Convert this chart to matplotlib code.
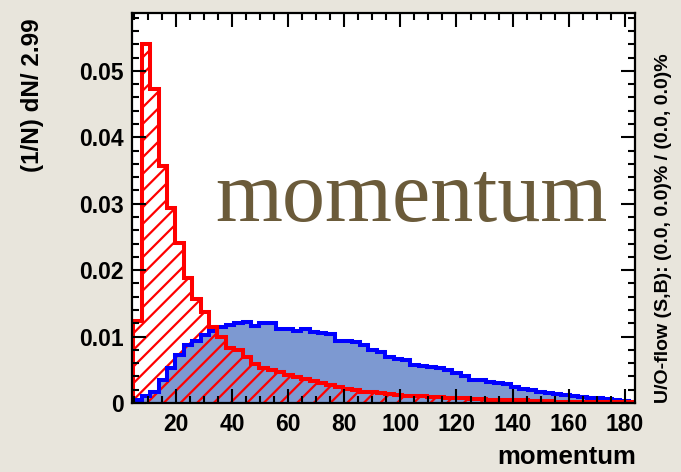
import numpy as np
import matplotlib
matplotlib.use("Agg")
import matplotlib.pyplot as plt
from matplotlib.ticker import MultipleLocator, FuncFormatter

# binning: 60 bins of width 2.99
x_low = 4.9
bin_width = 2.99

signal = [0.0004, 0.0011, 0.0016, 0.0035, 0.0052, 0.0072, 0.0087, 0.0094, 0.0102, 0.0109,
          0.0114, 0.0118, 0.0120, 0.0122, 0.0116, 0.0121, 0.0120, 0.0112, 0.0112, 0.0108,
          0.0112, 0.0107, 0.0105, 0.0104, 0.0094, 0.0093, 0.0092, 0.0087, 0.0080, 0.0077,
          0.0069, 0.0066, 0.0064, 0.0057, 0.0056, 0.0054, 0.0052, 0.0050, 0.0045, 0.0041,
          0.0035, 0.0035, 0.0032, 0.0030, 0.0028, 0.0024, 0.0021, 0.0019, 0.0017, 0.0015,
          0.0013, 0.0012, 0.0010, 0.0009, 0.0008, 0.0007, 0.0006, 0.0004, 0.0003, 0.0002]

background = [0.0123, 0.0541, 0.0473, 0.0357, 0.0294, 0.0241, 0.0188, 0.0157, 0.0137, 0.0114,
              0.0099, 0.0083, 0.0080, 0.0069, 0.0058, 0.0053, 0.0049, 0.0046, 0.0042, 0.0039,
              0.0036, 0.0033, 0.0030, 0.0027, 0.0024, 0.0021, 0.0019, 0.0017, 0.0016, 0.0015,
              0.0013, 0.0012, 0.0011, 0.0011, 0.0010, 0.0009, 0.0009, 0.0008, 0.0008, 0.0007,
              0.0006, 0.0006, 0.0005, 0.0005, 0.0004, 0.0004, 0.0004, 0.0003, 0.0003, 0.0003,
              0.0002, 0.0002, 0.0002, 0.0002, 0.0001, 0.0001, 0.0001, 0.0001, 0.0001, 0.0001]

x_ticks = [20, 40, 60, 80, 100, 120, 140, 160, 180]
y_ticks = [0, 0.01, 0.02, 0.03, 0.04, 0.05]

edges = x_low + bin_width * np.arange(len(signal) + 1)

plt.rcParams['font.family'] = ['Liberation Sans', 'DejaVu Sans']
plt.rcParams['font.weight'] = 'bold'
plt.rcParams['hatch.linewidth'] = 1.6

bg_col = '#e8e5dc'
fig = plt.figure(figsize=(6.81, 4.72), dpi=100, facecolor=bg_col)
ax = fig.add_axes([132/681, 1 - 403/472, 503/681, 390/472])
ax.set_facecolor('white')

# signal: filled, background: hatched
ax.stairs(signal, edges, fill=True, color='#7d99d1', linewidth=0)
ax.stairs(background, edges, fill=True, facecolor='none', edgecolor='#ff0000',
          hatch='//', linewidth=0)
ax.stairs(signal, edges, color='#0000ff', linewidth=2.9)
ax.stairs(background, edges, color='#ff0000', linewidth=2.9)

ax.set_xlim(4.4, 183.6)
ax.set_ylim(0, 0.0587)
ax.set_xticks(x_ticks)
ax.set_yticks(y_ticks)
ax.xaxis.set_minor_locator(MultipleLocator(5))
ax.yaxis.set_minor_locator(MultipleLocator(0.002))
ax.yaxis.set_major_formatter(FuncFormatter(lambda v, p: '0' if v == 0 else f'{v:.2f}'))

ax.tick_params(which='both', direction='in', top=True, right=True, width=1.5,
               labelsize=16.5)
ax.tick_params(which='major', length=10)
ax.tick_params(which='minor', length=5)
ax.tick_params(axis='x', pad=7)
ax.tick_params(axis='y', pad=6)
for s in ax.spines.values():
    s.set_linewidth(1.6)

fig.text(33/681, 1 - 95/472, '(1/N) dN/ 2.99', rotation=90, ha='center', va='center',
         fontsize=17.5, fontweight='bold')
fig.text(636/681, 1 - 457/472, 'momentum', ha='right', va='center',
         fontsize=18.5, fontweight='bold')
fig.text(664/681, 1 - 228/472, 'U/O-flow (S,B): (0.0, 0.0)% / (0.0, 0.0)%',
         rotation=90, ha='center', va='center', fontsize=14, fontweight='bold')

ax.text(0.555, 0.52, 'momentum', transform=ax.transAxes, ha='center', va='center',
        fontsize=62, family='Liberation Serif', fontweight='normal', color='#6b5b3a')

fig.savefig('out.png', dpi=100, facecolor=bg_col)
